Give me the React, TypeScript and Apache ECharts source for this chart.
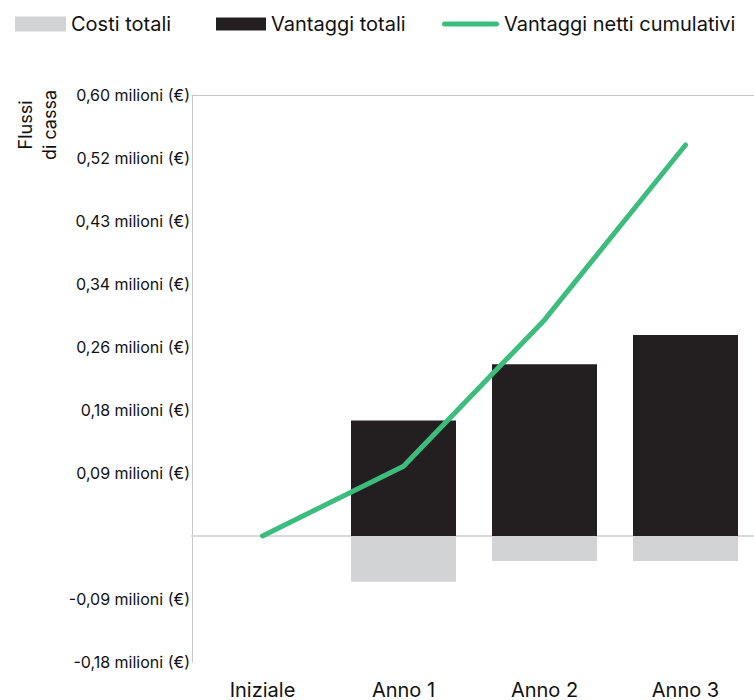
import React, { useEffect, useRef } from "react";
import * as echarts from "echarts";

const categories = ["Iniziale", "Anno 1", "Anno 2", "Anno 3"];
const costiTotali = [0, -0.0621, -0.034, -0.034];
const vantaggiTotali = [0, 0.1572, 0.2337, 0.2736];
const vantaggiNettiCumulativi = [0, 0.095, 0.294, 0.532];
const yTickLabels = [
  "-0,18 milioni (€)",
  "-0,09 milioni (€)",
  "",
  "0,09 milioni (€)",
  "0,18 milioni (€)",
  "0,26 milioni (€)",
  "0,34 milioni (€)",
  "0,43 milioni (€)",
  "0,52 milioni (€)",
  "0,60 milioni (€)",
];

const STEP = 0.6 / 7;
const Y_MIN = -2 * STEP;
const Y_MAX = 7 * STEP;
const FONT = "Inter";

export default function App() {
  const ref = useRef<HTMLDivElement>(null);
  useEffect(() => {
    if (!ref.current) return;
    const chart = echarts.init(ref.current, undefined, { renderer: "svg" });
    const legendText = { fontFamily: FONT, fontSize: 20, color: "#111" };
    chart.setOption({
      animation: false,
      backgroundColor: "#ffffff",
      textStyle: { fontFamily: FONT },
      legend: [
        {
          data: ["Costi totali"],
          left: 10,
          top: 9,
          itemWidth: 51,
          itemHeight: 15,
          icon: "rect",
          textStyle: legendText,
          selectedMode: false,
        },
        {
          data: ["Vantaggi totali"],
          left: 211,
          top: 9,
          itemWidth: 50,
          itemHeight: 13,
          icon: "rect",
          textStyle: legendText,
          selectedMode: false,
        },
        {
          data: ["Vantaggi netti cumulativi"],
          left: 437,
          top: 9,
          itemWidth: 57,
          itemHeight: 5,
          icon: "path://M2.5,0 L54.5,0 A2.5,2.5 0 0 1 54.5,5 L2.5,5 A2.5,2.5 0 0 1 2.5,0 Z",
          itemStyle: { color: "#3dbd7d", borderWidth: 0 },
          textStyle: legendText,
          selectedMode: false,
        },
      ],
      grid: {
        left: 192,
        right: -2,
        top: 95,
        bottom: 38,
        containLabel: false,
        outerBoundsMode: "none",
      },
      xAxis: [
        {
          type: "category",
          data: categories,
          axisLine: { show: true, onZero: true, lineStyle: { color: "#d9d9d9", width: 2 } },
          axisTick: { show: false },
          axisLabel: {
            interval: 0,
            margin: 18,
            fontFamily: FONT,
            fontSize: 20,
            color: "#111",
          },
          splitLine: { show: false },
        },
        {
          type: "category",
          data: categories,
          position: "top",
          axisLine: { show: true, onZero: false, lineStyle: { color: "#c6c6c6", width: 1 } },
          axisTick: { show: false },
          axisLabel: { show: false },
          splitLine: { show: false },
        },
      ],
      yAxis: {
        type: "value",
        min: Y_MIN,
        max: Y_MAX,
        interval: STEP,
        axisLine: { show: true, lineStyle: { color: "#c6c6c6", width: 1 } },
        axisTick: { show: false },
        splitLine: { show: false },
        axisLabel: {
          margin: 2,
          fontFamily: FONT,
          fontSize: 16,
          color: "#111",
          formatter: (v: number) => yTickLabels[Math.round((v - Y_MIN) / STEP)] ?? "",
        },
      },
      graphic: [
        {
          type: "text",
          x: 37,
          y: 125,
          rotation: Math.PI / 2,
          style: {
            text: "Flussi\ndi cassa",
            fontFamily: FONT,
            fontSize: 18,
            lineHeight: 24,
            fill: "#111",
            align: "center",
            verticalAlign: "middle",
          },
        },
      ],
      series: [
        {
          name: "Costi totali",
          type: "bar",
          stack: "flussi",
          data: costiTotali,
          barWidth: 105,
          itemStyle: { color: "#d1d3d4" },
        },
        {
          name: "Vantaggi totali",
          type: "bar",
          stack: "flussi",
          data: vantaggiTotali,
          barWidth: 105,
          itemStyle: { color: "#231f20" },
        },
        {
          name: "Vantaggi netti cumulativi",
          type: "line",
          data: vantaggiNettiCumulativi,
          symbol: "none",
          showSymbol: false,
          z: 5,
          lineStyle: { color: "#3dbd7d", width: 5, cap: "round", join: "round" },
          itemStyle: { color: "#3dbd7d" },
        },
      ],
    });
    return () => chart.dispose();
  }, []);
  return (
    <div
      ref={ref}
      style={{ position: "fixed", left: 0, top: 0, width: 754, height: 700, background: "#fff" }}
    />
  );
}
